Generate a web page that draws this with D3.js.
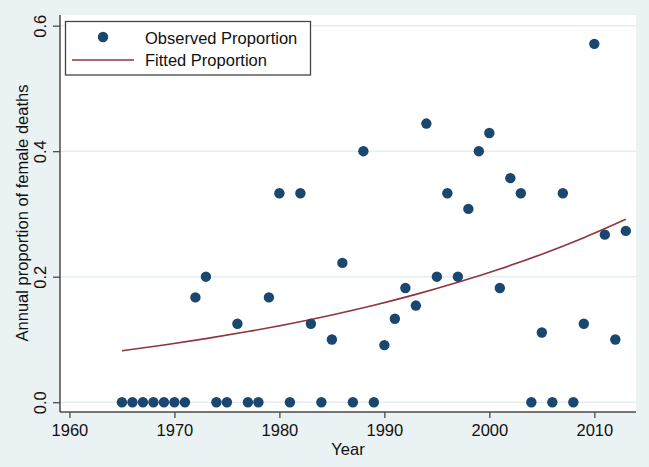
<!DOCTYPE html>
<html>
<head>
<meta charset="utf-8">
<script src="https://cdn.jsdelivr.net/npm/d3@7"></script>
<style>
  html, body { margin: 0; padding: 0; background: #EAF2F3; }
  svg { display: block; }
  text { font-family: "Liberation Sans", Arial, sans-serif; fill: #111; }
</style>
</head>
<body>
<svg id="chart" width="649" height="467"></svg>
<script>
// ---- data ----
const years = [1965,1966,1967,1968,1969,1970,1971,1972,1973,1974,1975,1976,1977,1978,1979,
  1980,1981,1982,1983,1984,1985,1986,1987,1988,1989,1990,1991,1992,1993,1994,1995,1996,1997,
  1998,1999,2000,2001,2002,2003,2004,2005,2006,2007,2008,2009,2010,2011,2012,2013];
const observed = [0,0,0,0,0,0,0,0.167,0.2,0,0,0.125,0,0,0.167,
  0.333,0,0.333,0.125,0,0.1,0.222,0,0.4,0,0.091,0.133,0.182,0.154,0.444,0.2,0.333,0.2,
  0.308,0.4,0.429,0.182,0.357,0.333,0,0.111,0,0.333,0,0.125,0.571,0.267,0.1,0.273];
const fittedYears = [1965,1969,1973,1977,1981,1985,1989,1993,1997,2001,2005,2009,2013];
const fitted = [0.082,0.0911,0.1013,0.1126,0.1251,0.1391,0.1546,0.1718,0.1910,0.2123,0.2359,0.2622,0.2915];
const xTicks = [1960,1970,1980,1990,2000,2010];
const yTicks = [0,0.2,0.4,0.6];
const yTickLabels = ["0.0","0.2","0.4","0.6"];
const seriesNames = ["Observed Proportion","Fitted Proportion"];
const xTitle = "Year";
const yTitle = "Annual proportion of female deaths";

// ---- layout ----
const W = 649, H = 467;
const plot = {left: 60, right: 636, top: 15, bottom: 412};
const pointColor = "#1A476F", lineColor = "#90353B", axisColor = "#4a4a4a";

const svg = d3.select("#chart");
svg.append("rect").attr("width", W).attr("height", H).attr("fill", "#EAF2F3");
svg.append("rect").attr("x", plot.left).attr("y", plot.top)
  .attr("width", plot.right - plot.left).attr("height", plot.bottom - plot.top)
  .attr("fill", "#ffffff");

const x = d3.scaleLinear().domain([1959.1, 2013.97]).range([plot.left, plot.right]);
const y = d3.scaleLinear().domain([-0.0156, 0.617]).range([plot.bottom, plot.top]);

// gridlines
svg.append("g").selectAll("line").data(yTicks).join("line")
  .attr("x1", plot.left).attr("x2", plot.right)
  .attr("y1", d => y(d)).attr("y2", d => y(d))
  .attr("stroke", "#E4EEF0").attr("stroke-width", 1.5);

// x axis
const xAxis = d3.axisBottom(x).tickValues(xTicks).tickFormat(d3.format("d"))
  .tickSize(6).tickPadding(6);
const gx = svg.append("g").attr("transform", `translate(0,${plot.bottom})`).call(xAxis);
gx.select(".domain").attr("stroke", axisColor).attr("stroke-width", 1.5)
  .attr("d", `M${plot.left},0H${plot.right}`);
gx.selectAll(".tick line").attr("stroke", axisColor).attr("stroke-width", 1.3);
gx.selectAll(".tick text").attr("font-size", 16.5).attr("fill", "#111")
  .attr("font-family", "Liberation Sans, Arial, sans-serif");

// y axis
const yAxis = d3.axisLeft(y).tickValues(yTicks).tickFormat((d, i) => yTickLabels[i])
  .tickSize(7).tickPadding(0);
const gy = svg.append("g").attr("transform", `translate(${plot.left},0)`).call(yAxis);
gy.select(".domain").attr("stroke", axisColor).attr("stroke-width", 1.5)
  .attr("d", `M0,${plot.top}V${plot.bottom}`);
gy.selectAll(".tick line").attr("stroke", axisColor).attr("stroke-width", 1.3);
gy.selectAll(".tick text")
  .attr("font-size", 16.5).attr("fill", "#111")
  .attr("font-family", "Liberation Sans, Arial, sans-serif")
  .attr("text-anchor", "middle")
  .attr("dy", null)
  .attr("x", null)
  .attr("transform", "translate(-14.5,0) rotate(-90)");

// axis titles
svg.append("text").attr("x", (plot.left + plot.right) / 2).attr("y", 455)
  .attr("text-anchor", "middle").attr("font-size", 16.5).text(xTitle);
svg.append("text")
  .attr("transform", `translate(28,${213}) rotate(-90)`)
  .attr("text-anchor", "middle").attr("font-size", 16.5).text(yTitle);

// fitted line
const line = d3.line().x((d, i) => x(fittedYears[i])).y(d => y(d)).curve(d3.curveMonotoneX);
svg.append("path").datum(fitted).attr("d", line)
  .attr("fill", "none").attr("stroke", lineColor).attr("stroke-width", 1.6);

// observed points
svg.append("g").selectAll("circle").data(observed).join("circle")
  .attr("cx", (d, i) => x(years[i])).attr("cy", d => y(d)).attr("r", 5.2)
  .attr("fill", pointColor);

// legend
const lg = svg.append("g");
lg.append("rect").attr("x", 65.5).attr("y", 21.5).attr("width", 245).attr("height", 53.5)
  .attr("fill", "#ffffff").attr("stroke", "#444").attr("stroke-width", 1.3);
lg.append("circle").attr("cx", 103).attr("cy", 37).attr("r", 5.2).attr("fill", pointColor);
lg.append("line").attr("x1", 72).attr("x2", 134).attr("y1", 60).attr("y2", 60)
  .attr("stroke", lineColor).attr("stroke-width", 1.6);
lg.append("text").attr("x", 145).attr("y", 43.5).attr("font-size", 16.5).text(seriesNames[0]);
lg.append("text").attr("x", 145).attr("y", 65.5).attr("font-size", 16.5).text(seriesNames[1]);
</script>
</body>
</html>
